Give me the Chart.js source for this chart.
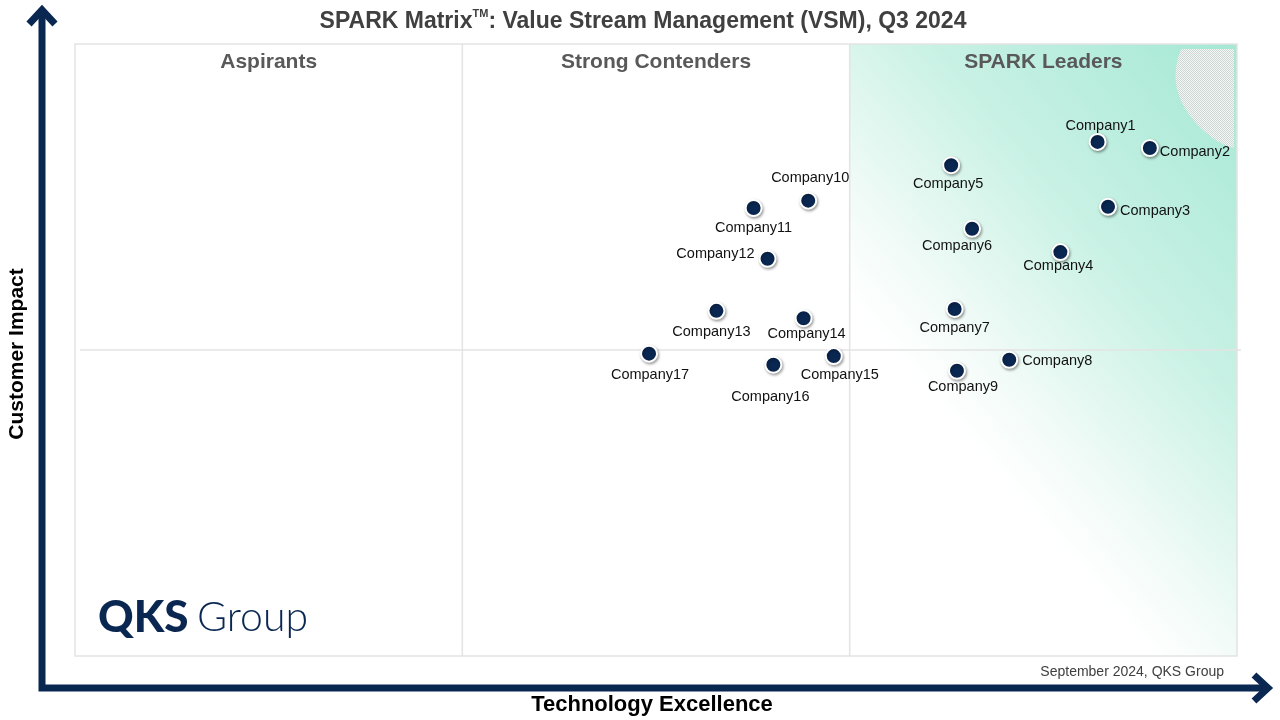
<!DOCTYPE html>
<html>
<head>
<meta charset="utf-8">
<script src="https://cdn.jsdelivr.net/npm/chart.js@4"></script>
<style>
  html, body { margin: 0; padding: 0; background: #fff; }
  #wrap { width: 1280px; height: 720px; position: relative; }
</style>
</head>
<body>
<div id="wrap"><canvas id="spark" width="1280" height="720"></canvas></div>
<script>
// vendor names and scores (0-100 on both axes)
const companies = ["Company1", "Company2", "Company3", "Company4", "Company5", "Company6",
    "Company7", "Company8", "Company9", "Company10", "Company11", "Company12",
    "Company13", "Company14", "Company15", "Company16", "Company17"];
const techExcellence = [88.0, 92.5, 88.9, 84.8, 75.4, 77.2, 75.7, 80.4, 75.9,
    63.1, 58.4, 59.6, 55.2, 62.7, 65.3, 60.1, 49.4];
const customerImpact = [84.0, 83.0, 73.4, 66.0, 80.2, 69.8, 56.7, 48.4, 46.6,
    74.4, 73.2, 64.9, 56.4, 55.2, 49.0, 47.6, 49.4];

const quadrantNames = ["Aspirants", "Strong Contenders", "SPARK Leaders"];

// where each label sits relative to its dot: [dx, dy, align]
const labelPlace = [
    [3, -16, "center"], [10, 4, "left"], [12, 4, "left"], [-2, 14, "center"],
    [-3, 19, "center"], [-15, 17, "center"], [0, 19, "center"], [13, 1, "left"],
    [6, 16, "center"], [2, -23, "center"], [0, 20, "center"], [-13, -5, "right"],
    [-5, 21, "center"], [3, 16, "center"], [6, 19, "center"], [-3, 32, "center"],
    [1, 21, "center"]
];

const NAVY = "#0a2751";
const FONT = "'Liberation Sans', Arial, sans-serif";

function arrowHead(ctx, x, y, dir) {
    // chevron style head pointing up or right
    ctx.save();
    ctx.strokeStyle = NAVY;
    ctx.lineWidth = 7;
    ctx.lineCap = "butt";
    ctx.lineJoin = "miter";
    ctx.beginPath();
    if (dir === "up") {
        ctx.moveTo(x - 13, y + 14);
        ctx.lineTo(x, y);
        ctx.lineTo(x + 13, y + 14);
    } else {
        ctx.moveTo(x - 14, y - 13);
        ctx.lineTo(x, y);
        ctx.lineTo(x - 14, y + 13);
    }
    ctx.stroke();
    ctx.restore();
}

function checker() {
    const c = document.createElement("canvas");
    c.width = 2; c.height = 2;
    const k = c.getContext("2d");
    k.fillStyle = "#f3f7f5";
    k.fillRect(0, 0, 2, 2);
    k.fillStyle = "#cdd6d2";
    k.fillRect(0, 0, 1, 1);
    k.fillRect(1, 1, 1, 1);
    return c;
}

const backdrop = {
    id: "backdrop",
    beforeDatasetsDraw(chart) {
        const ctx = chart.ctx;
        const a = chart.chartArea;
        const xs = chart.scales.x, ys = chart.scales.y;
        const x1 = xs.getPixelForValue(100 / 3);
        const x2 = xs.getPixelForValue(200 / 3);
        const ym = ys.getPixelForValue(50);

        ctx.save();
        // leaders shading, white towards lower left, mint in the top right
        let g = ctx.createLinearGradient(885, 344, a.right, a.top);
        g.addColorStop(0, "#ffffff");
        g.addColorStop(0.15, "#f2fbf8");
        g.addColorStop(0.5, "#c8f1e4");
        g.addColorStop(1, "#a5e8d4");
        ctx.fillStyle = g;
        ctx.fillRect(x2, a.top, a.right - x2, a.bottom - a.top);

        // dithered patch in the top right corner
        ctx.fillStyle = ctx.createPattern(checker(), "repeat");
        ctx.beginPath();
        ctx.moveTo(a.right - 56, a.top + 5);
        ctx.lineTo(a.right - 3, a.top + 5);
        ctx.lineTo(a.right - 3, a.top + 104);
        ctx.quadraticCurveTo(a.right - 22, a.top + 100, a.right - 42, a.top + 78);
        ctx.quadraticCurveTo(a.right - 72, a.top + 44, a.right - 56, a.top + 5);
        ctx.fill();

        // frame and dividers
        ctx.strokeStyle = "#e3e3e3";
        ctx.lineWidth = 1.5;
        ctx.strokeRect(a.left, a.top, a.right - a.left, a.bottom - a.top);
        ctx.beginPath();
        ctx.moveTo(x1, a.top); ctx.lineTo(x1, a.bottom);
        ctx.moveTo(x2, a.top); ctx.lineTo(x2, a.bottom);
        ctx.moveTo(a.left + 5, ym); ctx.lineTo(a.right + 4, ym);
        ctx.stroke();

        // quadrant headings
        ctx.fillStyle = "#595959";
        ctx.font = "bold 21px " + FONT;
        ctx.textAlign = "center";
        ctx.textBaseline = "middle";
        const third = (a.right - a.left) / 3;
        quadrantNames.forEach((q, i) => {
            ctx.fillText(q, a.left + third * (i + 0.5), a.top + 18);
        });

        // logo
        ctx.fillStyle = NAVY;
        ctx.textAlign = "left";
        ctx.textBaseline = "alphabetic";
        ctx.font = "900 44px Lato, " + FONT;
        ctx.fillText("QKS", 98, 632);
        ctx.font = "300 41px Lato, " + FONT;
        ctx.fillText("Group", 197, 631);
        ctx.restore();

        // shadow for the dots
        ctx.save();
        ctx.shadowColor = "rgba(0,0,0,0.35)";
        ctx.shadowBlur = 3;
        ctx.shadowOffsetX = 1;
        ctx.shadowOffsetY = 1.5;
    },
    afterDatasetsDraw(chart) {
        const ctx = chart.ctx;
        ctx.restore();
        const meta = chart.getDatasetMeta(0);
        ctx.save();
        ctx.fillStyle = "#111";
        ctx.font = "14.5px " + FONT;
        ctx.textBaseline = "middle";
        meta.data.forEach((pt, i) => {
            const p = labelPlace[i];
            ctx.textAlign = p[2];
            ctx.fillText(companies[i], pt.x + p[0], pt.y + p[1]);
        });
        ctx.restore();
    },
    afterDraw(chart) {
        const ctx = chart.ctx;
        ctx.save();
        // title with superscript trademark
        ctx.fillStyle = "#404040";
        ctx.textBaseline = "alphabetic";
        const t1 = "SPARK Matrix";
        const t2 = ": Value Stream Management (VSM), Q3 2024";
        ctx.font = "bold 23px " + FONT;
        const w1 = ctx.measureText(t1).width;
        const w3 = ctx.measureText(t2).width;
        ctx.font = "bold 11px " + FONT;
        const w2 = ctx.measureText("TM").width;
        const start = 643 - (w1 + w2 + w3) / 2;
        ctx.textAlign = "left";
        ctx.font = "bold 23px " + FONT;
        ctx.fillText(t1, start, 28);
        ctx.font = "bold 11px " + FONT;
        ctx.fillText("TM", start + w1, 17);
        ctx.font = "bold 23px " + FONT;
        ctx.fillText(t2, start + w1 + w2, 28);

        // axes arrows
        ctx.strokeStyle = NAVY;
        ctx.lineWidth = 7;
        ctx.beginPath();
        ctx.moveTo(42, 691);
        ctx.lineTo(42, 12);
        ctx.moveTo(38.5, 688);
        ctx.lineTo(1266, 688);
        ctx.stroke();
        arrowHead(ctx, 42, 10, "up");
        arrowHead(ctx, 1268, 688, "right");

        // axis titles
        ctx.fillStyle = "#000";
        ctx.font = "bold 22px " + FONT;
        ctx.textAlign = "center";
        ctx.textBaseline = "middle";
        ctx.fillText("Technology Excellence", 652, 705);
        ctx.font = "bold 21px " + FONT;
        ctx.translate(17, 354);
        ctx.rotate(-Math.PI / 2);
        ctx.fillText("Customer Impact", 0, 0);
        ctx.restore();

        ctx.save();
        ctx.fillStyle = "#404040";
        ctx.font = "14px " + FONT;
        ctx.textAlign = "right";
        ctx.textBaseline = "middle";
        ctx.fillText("September 2024, QKS Group", 1224, 672);
        ctx.restore();
    }
};

const points = companies.map((c, i) => ({ x: techExcellence[i], y: customerImpact[i] }));

new Chart(document.getElementById("spark"), {
    type: "scatter",
    data: {
        datasets: [{
            label: "Vendors",
            data: points,
            pointRadius: 8,
            pointHoverRadius: 8,
            pointBackgroundColor: NAVY,
            pointBorderColor: "#ffffff",
            pointBorderWidth: 2
        }]
    },
    options: {
        responsive: false,
        animation: false,
        maintainAspectRatio: false,
        layout: { padding: { left: 75, right: 43, top: 44, bottom: 64 } },
        plugins: {
            legend: { display: false },
            tooltip: { enabled: false },
            title: { display: false }
        },
        scales: {
            x: { min: 0, max: 100, display: false },
            y: { min: 0, max: 100, display: false }
        }
    },
    plugins: [backdrop]
});
</script>
</body>
</html>
